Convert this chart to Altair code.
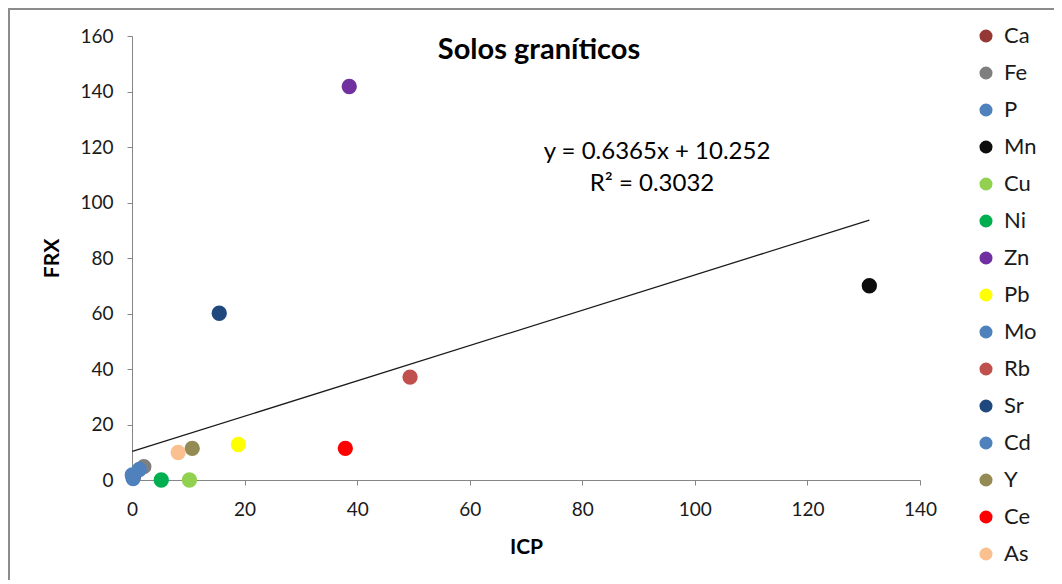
import altair as alt
import pandas as pd

elements = ["Ca", "Fe", "P", "Mn", "Cu", "Ni", "Zn", "Pb", "Mo", "Rb", "Sr", "Cd", "Y", "Ce", "As"]
icp = [0.3, 2.1, 0.2, 131.0, 10.2, 5.2, 38.6, 18.9, 0.05, 49.4, 15.5, 1.3, 10.7, 37.9, 8.2]
frx = [1.5, 4.8, 0.5, 70.0, 0.0, 0.0, 141.8, 12.8, 1.8, 37.1, 60.1, 3.8, 11.4, 11.4, 9.9]
colors = ["#953735", "#7f7f7f", "#4f81bd", "#0d0d0d", "#92d050", "#00b050", "#7030a0",
          "#ffff00", "#4f81bd", "#c0504d", "#1f497d", "#4f81bd", "#948a54", "#ff0000", "#fac090"]
x_ticks = [0, 20, 40, 60, 80, 100, 120, 140]
y_ticks = [0, 20, 40, 60, 80, 100, 120, 140, 160]
slope = 0.6365
intercept = 10.252
title_text = "Solos graníticos"
eq_text = "y = 0.6365x + 10.252"
r2_text = "R² = 0.3032"

FONT = "Lato"

df = pd.DataFrame({"el": elements, "ICP": icp, "FRX": frx})
xmin, xmax = min(icp), max(icp)
trend = pd.DataFrame({"ICP": [xmin, xmax], "FRX": [slope * xmin + intercept, slope * xmax + intercept]})

xscale = alt.Scale(domain=[0, 140], nice=False, zero=False)
yscale = alt.Scale(domain=[0, 160], nice=False, zero=False)

xaxis = alt.Axis(values=x_ticks, grid=False, title="ICP", tickSize=5, labelPadding=15,
                 titlePadding=17, labelFlush=False, labelOverlap=False)
yaxis = alt.Axis(values=y_ticks, grid=False, title="FRX", tickSize=5, labelPadding=14,
                 titlePadding=17, labelFlush=False, labelOverlap=False)

points = alt.Chart(df).mark_circle(size=235, opacity=1).encode(
    x=alt.X("ICP:Q", scale=xscale, axis=xaxis),
    y=alt.Y("FRX:Q", scale=yscale, axis=yaxis),
    color=alt.Color("el:N", sort=elements,
                    scale=alt.Scale(domain=elements, range=colors),
                    legend=alt.Legend(title=None, orient="none", legendX=843, legendY=-11,
                                      symbolType="circle", symbolSize=170, labelFontSize=22,
                                      labelFont=FONT, labelColor="#1a1a1a", rowPadding=15,
                                      labelOffset=7, padding=0, symbolStrokeWidth=0)),
    order=alt.Order("idx:Q"),
).transform_window(idx="row_number()")

line = alt.Chart(trend).mark_line(color="#1a1a1a", strokeWidth=1.3).encode(
    x=alt.X("ICP:Q", scale=xscale), y=alt.Y("FRX:Q", scale=yscale))

base = alt.Chart(pd.DataFrame({"a": [0]}))
title = base.mark_text(text=title_text, font=FONT, fontSize=29, fontWeight="bold",
                       color="#000000", align="center", baseline="middle").encode(
    x=alt.value(407), y=alt.value(14))
eq = base.mark_text(text=eq_text, font=FONT, fontSize=24, color="#000000",
                    align="center", baseline="middle").encode(x=alt.value(525), y=alt.value(116))
r2 = base.mark_text(text=r2_text, font=FONT, fontSize=24, color="#000000",
                    align="center", baseline="middle").encode(x=alt.value(520), y=alt.value(148))

border_top = base.mark_rule(color="#8c8c8c", strokeWidth=2).encode(
    x=alt.value(-124), x2=alt.value(940), y=alt.value(-27))
border_left = base.mark_rule(color="#8c8c8c", strokeWidth=2).encode(
    x=alt.value(-123), y=alt.value(-28), y2=alt.value(560))

chart = alt.layer(border_top, border_left, line, points, title, eq, r2).properties(
    width=788, height=444,
    autosize=alt.AutoSizeParams(type="none"),
    padding={"left": 124, "top": 28, "right": 134, "bottom": 100},
).configure_view(stroke=None).configure_axis(
    labelFont=FONT, labelFontSize=19, labelColor="#1a1a1a",
    titleFont=FONT, titleFontSize=21, titleFontWeight="bold", titleColor="#000000",
    domainColor="#868686", tickColor="#868686", domainWidth=1, tickWidth=1,
)

chart.save("out.html", embed_options={"renderer": "svg", "actions": False})
